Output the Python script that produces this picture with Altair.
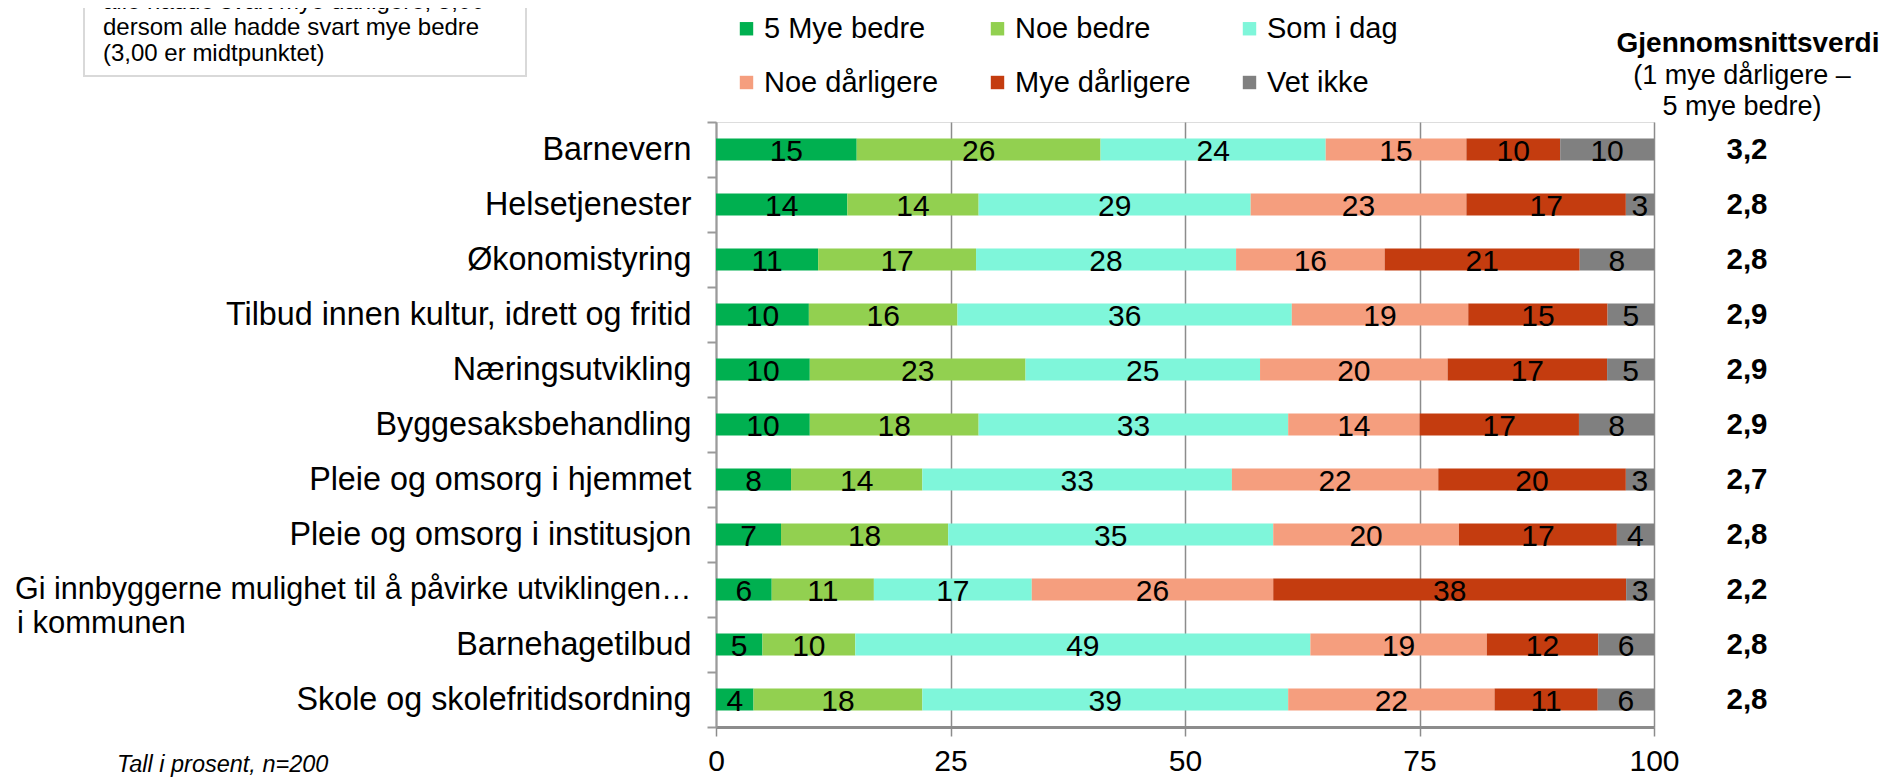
import altair as alt
import pandas as pd

categories = [
    "Barnevern",
    "Helsetjenester",
    "Økonomistyring",
    "Tilbud innen kultur, idrett og fritid",
    "Næringsutvikling",
    "Byggesaksbehandling",
    "Pleie og omsorg i hjemmet",
    "Pleie og omsorg i institusjon",
    "Gi innbyggerne mulighet til å påvirke utviklingen i kommunen",
    "Barnehagetilbud",
    "Skole og skolefritidsordning",
]
series = ["5 Mye bedre", "Noe bedre", "Som i dag", "Noe dårligere", "Mye dårligere", "Vet ikke"]
colors = ["#00B050", "#92D050", "#7FF6DA", "#F59E7E", "#C43C0F", "#808080"]

mye_bedre = [15, 14, 11, 10, 10, 10, 8, 7, 6, 5, 4]
noe_bedre = [26, 14, 17, 16, 23, 18, 14, 18, 11, 10, 18]
som_i_dag = [24, 29, 28, 36, 25, 33, 33, 35, 17, 49, 39]
noe_darligere = [15, 23, 16, 19, 20, 14, 22, 20, 26, 19, 22]
mye_darligere = [10, 17, 21, 15, 17, 17, 20, 17, 38, 12, 11]
vet_ikke = [10, 3, 8, 5, 5, 8, 3, 4, 3, 6, 6]
averages = ["3,2", "2,8", "2,8", "2,9", "2,9", "2,9", "2,7", "2,8", "2,2", "2,8", "2,8"]

header_title = "Gjennomsnittsverdi"
header_sub = "(1 mye dårligere –\n5 mye bedre)"
box_text = "alle hadde svart mye dårligere, 5,00\ndersom alle hadde svart mye bedre\n(3,00 er midtpunktet)"
footnote = "Tall i prosent, n=200"
long_cat = categories[8]
long_first = "Gi innbyggerne mulighet til å påvirke utviklingen…"
long_second = "i kommunen"

values = [mye_bedre, noe_bedre, som_i_dag, noe_darligere, mye_darligere, vet_ikke]
rows = []
for si, (s, vals) in enumerate(zip(series, values)):
    for c, v in zip(categories, vals):
        rows.append({"cat": c, "series": s, "order": si, "v": v})
df = pd.DataFrame(rows)
avg_df = pd.DataFrame({"cat": categories, "avg": averages})

FONT = "Liberation Sans"
W, H = 938, 605

y_enc = alt.Y(
    "cat:N",
    sort=categories,
    scale=alt.Scale(paddingInner=0, paddingOuter=0),
    axis=alt.Axis(
        title=None,
        domainColor="#9a9a9a",
        domainWidth=2,
        tickColor="#9a9a9a",
        tickWidth=2,
        tickSize=9,
        tickBand="extent",
        labelFontSize={"condition": {"test": f"datum.value == '{long_cat}'", "value": 30.5}, "value": 32.3},
        labelFont=FONT,
        labelColor="black",
        labelPadding=16,
        labelLimit=900,
        grid=False,
        labelExpr=f"datum.value == '{long_cat}' ? '{long_first}' : datum.value",
    ),
)

base = (
    alt.Chart(df)
    .transform_joinaggregate(total="sum(v)", groupby=["cat"])
    .transform_calculate(pct="datum.v / datum.total * 100")
    .transform_stack(stack="pct", groupby=["cat"], as_=["x0", "x1"], sort=[alt.SortField("order")])
    .transform_calculate(mid="(datum.x0 + datum.x1) / 2")
)

bars = base.mark_bar(size=22).encode(
    x=alt.X(
        "x0:Q",
        scale=alt.Scale(domain=[0, 100], nice=False),
        axis=alt.Axis(
            values=[0, 25, 50, 75, 100],
            title=None,
            grid=True,
            gridColor="#8c8c8c",
            gridWidth=1.5,
            domainColor="#8c8c8c",
            domainWidth=3,
            tickColor="#8c8c8c",
            tickWidth=1.5,
            tickSize=9,
            labelFontSize=30,
            labelFont=FONT,
            labelColor="black",
            labelPadding=10,
            labelFlush=False,
        ),
    ),
    x2="x1:Q",
    y=y_enc,
    color=alt.Color(
        "series:N",
        scale=alt.Scale(domain=series, range=colors),
        legend=alt.Legend(
            title=None,
            orient="none",
            direction="horizontal",
            legendX=16,
            legendY=-108,
            columns=3,
            columnPadding=44,
            rowPadding=24,
            symbolType="square",
            symbolSize=180,
            symbolStrokeWidth=0,
            labelFontSize=29,
            labelFont=FONT,
            labelColor="black",
            labelOffset=3,
            labelLimit=400,
            padding=0,
        ),
    ),
)

labels = base.mark_text(fontSize=30, font=FONT, color="black", baseline="alphabetic", dy=11).encode(
    x="mid:Q",
    y=alt.Y("cat:N", sort=categories),
    text="v:Q",
)

avg_text = alt.Chart(avg_df).mark_text(
    fontSize=29.5, font=FONT, fontWeight="bold", color="black", baseline="middle", align="center"
).encode(
    x=alt.value(1031),
    y=alt.Y("cat:N", sort=categories),
    text="avg:N",
)

second_line = alt.Chart(pd.DataFrame({"cat": [long_cat], "t": [long_second]})).mark_text(
    fontSize=31, font=FONT, color="black", baseline="middle", align="left", dy=34
).encode(
    x=alt.value(-699),
    y=alt.Y("cat:N", sort=categories),
    text="t:N",
)

header1 = alt.Chart(pd.DataFrame({"t": [header_title]})).mark_text(
    fontSize=28, font=FONT, fontWeight="bold", color="black", align="center", baseline="middle"
).encode(x=alt.value(1032), y=alt.value(-78), text="t:N")

header2 = alt.Chart(pd.DataFrame({"t": [header_sub]})).mark_text(
    fontSize=27, font=FONT, color="black", align="center", baseline="middle", lineBreak="\n", lineHeight=31
).encode(x=alt.value(1026), y=alt.value(-46), text="t:N")

box = alt.Chart(pd.DataFrame({"t": [0]})).mark_rect(
    fill="white", stroke="#d9d9d9", strokeWidth=2
).encode(x=alt.value(-632), x2=alt.value(-190), y=alt.value(-220), y2=alt.value(-46))

box_lines = alt.Chart(pd.DataFrame({"t": [box_text]})).mark_text(
    fontSize=24, font=FONT, color="black", align="left", baseline="alphabetic", lineBreak="\n", lineHeight=26
).encode(x=alt.value(-613), y=alt.value(-113), text="t:N")

foot = alt.Chart(pd.DataFrame({"t": [footnote]})).mark_text(
    fontSize=23.5, font=FONT, fontStyle="italic", color="black", align="left", baseline="middle"
).encode(x=alt.value(-599), y=alt.value(643), text="t:N")

chart = (
    alt.layer(box, box_lines, bars, labels, avg_text, second_line, header1, header2, foot)
    .properties(
        width=W,
        height=H,
        autosize=alt.AutoSizeParams(type="none"),
        padding={"left": 708, "top": 114, "right": 232, "bottom": 52},
    )
    .configure_view(strokeWidth=0)
    .configure(font=FONT)
)

chart.save("out.html", embed_options={"renderer": "svg", "actions": False})
